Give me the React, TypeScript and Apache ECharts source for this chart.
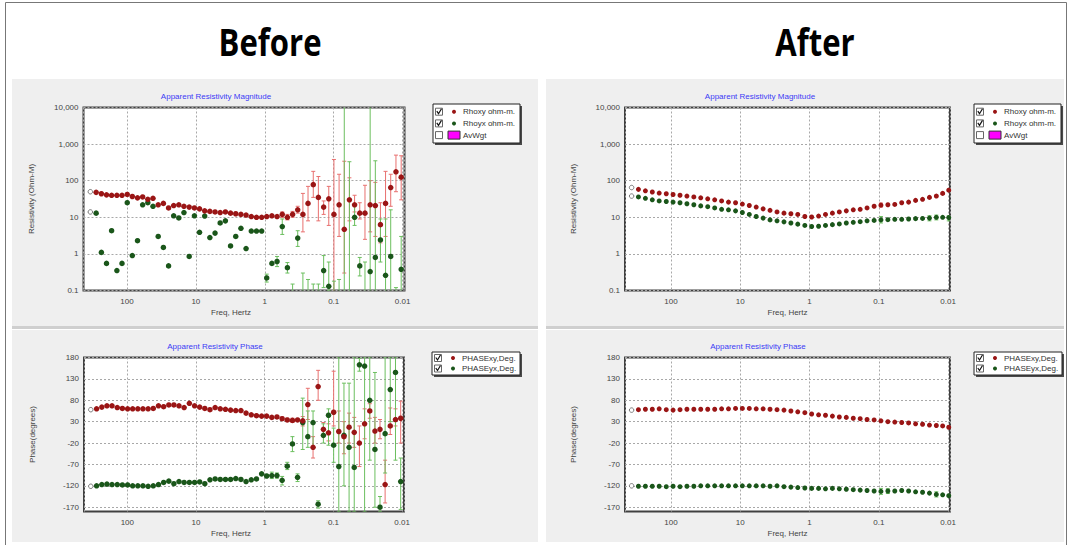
import React, { useEffect, useRef } from 'react';
import * as echarts from 'echarts';

// ---------------- DATA ----------------
const beforeFreq = [280, 235, 198, 167, 140, 118, 99, 83.6, 70.3, 59.2, 49.8, 41.9, 35.2, 29.6, 24.9, 21.0, 17.7, 14.9, 12.5, 10.5, 8.85, 7.45, 6.27, 5.27, 4.44, 3.73, 3.14, 2.64, 2.22, 1.87, 1.57, 1.32, 1.11, 0.938, 0.789, 0.664, 0.558, 0.47, 0.395, 0.333, 0.28, 0.236, 0.198, 0.167, 0.14, 0.118, 0.0993, 0.0836, 0.0703, 0.0592, 0.0498, 0.0419, 0.0352, 0.0296, 0.0249, 0.021, 0.0177, 0.0149, 0.0125, 0.0105];

const beforeRhoXY = [48, 44, 41, 40, 40, 40, 42, 37, 34, 36, 31, 33, 22, 24, 18, 21, 22, 20, 19, 18, 17, 15, 14.5, 14, 13.5, 14, 13, 12.5, 12, 11.5, 10.5, 10, 10, 10.5, 11, 10.5, 12, 10, 12, 16, 12, 24, 78, 35, 19, 32, 12, 22, 4.7, 30, 22, 13, 13, 22, 21, 6.3, 24, 65, 175, 125];
const beforeRhoXYErr = [[36, 10, 14], [37, 8.5, 12], [38, 10, 14.5], [39, 13, 20], [40, 4, 45], [41, 8, 70], [42, 35, 180], [43, 8, 130], [44, 12, 28], [45, 6, 70], [46, 0.05, 380], [47, 3, 150], [48, 0.3, 340], [49, 8, 120], [50, 14, 40], [51, 9, 25], [52, 2.5, 75], [53, 4, 100], [54, 3, 90], [55, 2, 25], [56, 3, 180], [57, 20, 150], [58, 50, 500], [59, 30, 480]];

const beforeRhoYX = [13, 1.1, 0.55, 4.3, 0.35, 0.55, 25, 0.9, 2.3, 22, 25, 20, 3.0, 1.5, 0.47, 11, 9.6, 13.5, 0.85, 11, 3.9, 10.8, 2.8, 3.7, 7, 8, 1.65, 3.0, 5, 1.4, 4.2, 4.2, 4.2, 0.22, 0.55, 0.62, 5.6, 0.42, 0.09, 2.7, 0.08, 0.06, 0.05, 0.06, 0.35, 0.13, 0.06, 0.06, 0.05, 0.05, 10, 0.47, 0.04, 0.33, 0.8, 2.4, 0.26, 0.85, 0.05, 0.38];
const beforeRhoYXErr = [[33, 0.17, 0.28], [35, 0.45, 0.85], [36, 3.4, 9], [37, 0.3, 0.58], [38, 0.06, 0.15], [39, 1.6, 4.3], [40, 0.05, 0.3], [41, 0.03, 0.2], [42, 0.02, 0.15], [43, 0.03, 0.15], [44, 0.12, 0.9], [45, 0.1, 0.6], [46, 0.02, 0.18], [47, 0.02, 0.2], [48, 0.01, 12000], [49, 0.02, 330], [50, 6, 22], [51, 0.25, 0.8], [52, 0.01, 0.6], [53, 0.02, 12000], [54, 0.05, 350], [55, 0.6, 9], [56, 0.05, 9], [57, 0.05, 16], [58, 0.01, 0.12], [59, 0.05, 3]];

const beforePhaseXY = [60, 64, 67, 67, 63, 61, 60, 60, 60, 60, 60, 61, 67, 65, 69, 69, 67, 63, 73, 67, 64, 61, 58, 63, 60, 59, 57, 56, 56, 50, 46, 44, 43, 43, 40, 41, 37, 34, 33, 34, 32, 70, -30, 112, 12, 4, 52, 7, -5, 17, 5, -20, 25, 55, 8, 12, -117, 20, 35, 38];
const beforePhaseXYErr = [[36, 33, 41], [37, 30, 38], [38, 28, 38], [40, 20, 42], [41, 35, 108], [42, -55, -5], [43, 80, 150], [44, 0, 28], [45, -15, 25], [46, 20, 148], [47, -20, 55], [48, -45, 30], [49, -20, 50], [50, -30, 40], [51, -75, 20], [52, -10, 60], [53, 38, 72], [54, -20, 40], [55, -10, 35], [56, -160, -60], [57, 0, 62], [58, 20, 60], [59, -20, 78]];

const beforePhaseYX = [-120, -117, -116, -117, -117, -118, -118, -120, -120, -120, -121, -120, -117, -112, -109, -115, -110, -112, -112, -112, -111, -115, -106, -104, -105, -105, -105, -103, -105, -110, -106, -104, -92, -97, -96, -96, -107, -74, -22, -100, 28, -5, 28, -163, -2, 45, -25, -75, -2, -30, -77, 163, 160, 80, -35, -170, 2, 105, 145, -110];
const beforePhaseYXErr = [[34, -103, -88], [35, -102, -90], [36, -118, -98], [37, -82, -65], [38, -40, -5], [39, -110, -92], [40, -35, 85], [41, -30, 55], [42, -30, 55], [43, -172, -155], [44, -20, 25], [45, -25, 60], [46, -65, 15], [47, -180, 180], [48, -120, 120], [49, -180, 120], [50, -180, 180], [51, 148, 178], [52, -180, 180], [53, -60, 180], [54, -170, 145], [55, -180, -145], [56, -90, 180], [57, 30, 180], [58, -60, 180], [59, -175, -55]];

const afterFreq = [295, 234, 186, 148, 117, 93.3, 74.1, 58.9, 46.8, 37.2, 29.5, 23.4, 18.6, 14.8, 11.7, 9.33, 7.41, 5.89, 4.68, 3.72, 2.95, 2.34, 1.86, 1.48, 1.17, 0.933, 0.741, 0.589, 0.468, 0.372, 0.295, 0.234, 0.186, 0.148, 0.117, 0.0933, 0.0741, 0.0589, 0.0468, 0.0372, 0.0295, 0.0234, 0.0186, 0.0148, 0.012, 0.0098];

const afterRhoXY = [58, 53, 49, 46, 44, 42, 40, 38, 36, 34, 32, 30, 28, 26, 25, 23, 21, 19, 17, 15.5, 14, 13, 12.5, 12, 10.5, 10.2, 10.8, 12, 13, 14, 15, 16, 16.5, 18, 20, 21.5, 22, 22.5, 25, 26, 29, 31, 35, 38, 45, 55];
const afterRhoXYErr = [[35, 19, 24.5], [43, 36, 41], [44, 42, 48]];
const afterRhoYX = [36, 33, 30, 28, 27, 26, 25, 23.5, 22, 20.5, 19.5, 18, 16.5, 16, 15, 13.5, 12, 10.5, 9.5, 8.5, 8, 7.5, 7, 6.5, 6, 5.6, 5.7, 6, 6.3, 6.6, 7, 7.3, 7.6, 8, 8.2, 8.5, 8.6, 8.8, 8.8, 9, 9.2, 9.3, 9.5, 10, 10, 9.8];
const afterRhoYXErr = [[35, 7, 10.5], [42, 8, 11], [43, 8.5, 11.5], [45, 8, 11]];

const afterPhaseXY = [58, 59, 59, 60, 58, 57, 58, 59, 59, 59, 59, 59, 60, 60, 61, 61, 61, 60, 60, 59, 58, 57, 55, 53, 51, 48, 46, 45, 43, 41, 40, 38, 37, 35, 34, 32, 30, 29, 28, 27, 25, 24, 22, 21, 20, 17];
const afterPhaseXYErr: number[][] = [];
const afterPhaseYX = [-121, -121, -121, -121, -122, -121, -122, -121, -121, -120, -120, -120, -120, -120, -120, -120, -120, -120, -120, -121, -120, -122, -123, -124, -125, -126, -126, -127, -126, -127, -128, -129, -130, -131, -132, -133, -132, -132, -131, -132, -134, -135, -137, -140, -141, -143];
const afterPhaseYXErr = [[35, -140, -126], [36, -138, -127], [43, -146, -134]];

// first (open) points
const beforeOpen = { freq: 340, rhoXY: 50, rhoYX: 14, phaseXY: 58, phaseYX: -121 };
const afterOpen = { freq: 370, rhoXY: 65, rhoYX: 38, phaseXY: 57, phaseYX: -120 };

const phaseTicks = [-170, -120, -70, -20, 30, 80, 130, 180];
const rhoLegend = ['Rhoxy ohm-m.', 'Rhoyx ohm-m.', 'AvWgt'];
const phaseLegend = ['PHASExy,Deg.', 'PHASEyx,Deg.'];

// ---------------- STYLE ----------------
const RED = '#9a1515';
const GREEN = '#1a561a';
const RED_ERR = '#e8706f';
const GREEN_ERR = '#6cbf5f';
const FONT = 'Liberation Sans, Arial, sans-serif';

const fmtFreq = (v: number) => {
  const e = Math.log10(v);
  const r = Math.round(e);
  if (Math.abs(e - r) > 0.01) return '';
  return r >= 0 ? String(Math.pow(10, r)) : Math.pow(10, r).toFixed(-r);
};
const fmtRho = (v: number) => {
  const e = Math.log10(v);
  const r = Math.round(e);
  if (Math.abs(e - r) > 0.01) return '';
  return r >= 0 ? Math.pow(10, r).toLocaleString('en-US') : Math.pow(10, r).toFixed(-r);
};

function errRender(color: string) {
  return (params: any, api: any) => {
    const x = api.value(0);
    const lo = api.value(1);
    const hi = api.value(2);
    const a = api.coord([x, lo]);
    const b = api.coord([x, hi]);
    const w = 2;
    const st = { stroke: color, lineWidth: 1 };
    return {
      type: 'group',
      children: [
        { type: 'line', shape: { x1: a[0], y1: a[1], x2: b[0], y2: b[1] }, style: st },
        { type: 'line', shape: { x1: a[0] - w, y1: a[1], x2: a[0] + w, y2: a[1] }, style: st },
        { type: 'line', shape: { x1: b[0] - w, y1: b[1], x2: b[0] + w, y2: b[1] }, style: st },
      ],
    };
  };
}

const pairs = (freq: number[], vals: number[]) => vals.map((v, i) => [freq[i], v]);
const errPairs = (freq: number[], errs: number[][]) => errs.map((e) => [freq[e[0]], e[1], e[2]]);

function legendGroup(x: number, y: number, w: number, h: number, items: string[], rowTop: number, rowGap: number) {
  const children: any[] = [
    { type: 'rect', shape: { x: x + 2, y: y + 2, width: w, height: h }, style: { fill: '#4a4a4a' } },
    { type: 'rect', shape: { x, y, width: w, height: h }, style: { fill: '#ffffff', stroke: '#222', lineWidth: 1 } },
  ];
  items.forEach((label, i) => {
    const cy = y + rowTop + i * rowGap;
    const isAv = label === 'AvWgt';
    children.push({ type: 'rect', shape: { x: x + 2.5, y: cy - 3.5, width: 7, height: 7 }, style: { fill: '#fff', stroke: '#666', lineWidth: 1 } });
    if (!isAv) {
      children.push({ type: 'polyline', shape: { points: [[x + 3.8, cy - 0.5], [x + 5.5, cy + 2], [x + 8.5, cy - 3]] }, style: { stroke: '#111', lineWidth: 1.2, fill: null } });
      children.push({ type: 'circle', shape: { cx: x + 21, cy, r: 2 }, style: { fill: i === 0 ? RED : GREEN } });
    } else {
      children.push({ type: 'rect', shape: { x: x + 15, y: cy - 4, width: 12, height: 8 }, style: { fill: '#ff00ff', stroke: '#333', lineWidth: 1 } });
    }
    children.push({ type: 'text', x: x + 30, y: cy, style: { text: label, fill: '#333', font: `8px ${FONT}`, verticalAlign: 'middle', align: 'left' } });
  });
  return { type: 'group', z: 100, children };
}

export default function App() {
  const ref = useRef<HTMLDivElement>(null);
  useEffect(() => {
    if (!ref.current) return;
    const chart = echarts.init(ref.current, null, { renderer: 'svg' });

    const grids = [
      { left: 83.5, top: 107.5, width: 321, height: 183 },
      { left: 84, top: 357.5, width: 320, height: 154 },
      { left: 625, top: 107.5, width: 325, height: 183 },
      { left: 625, top: 357.5, width: 325, height: 154 },
    ].map((g) => ({ ...g, show: true, backgroundColor: '#ffffff', borderColor: '#404040', borderWidth: 2, containLabel: false, outerBoundsMode: 'none' }));

    const xMax = [427, 427, 461, 461];

    const splitLine = { show: true, lineStyle: { color: '#a8a8a8', type: [2, 2], width: 1 } };
    const axisLabel = { color: '#444', fontSize: 8, fontFamily: FONT };

    const xAxes = [0, 1, 2, 3].map((i) => ({
      type: 'log', logBase: 10, gridIndex: i, inverse: true, min: 0.0094, max: xMax[i],
      name: 'Freq, Hertz', nameLocation: 'middle', nameGap: 18,
      nameTextStyle: { color: '#444', fontSize: 8, fontFamily: FONT, padding: i < 2 ? [0, 26, 0, 0] : [0, 0, 0, 0] },
      axisLine: { show: false }, axisTick: { show: false }, splitLine,
      axisLabel: { ...axisLabel, margin: 7, formatter: fmtFreq, showMinLabel: true, showMaxLabel: true },
    }));
    const yAxes = [0, 1, 2, 3].map((i) => {
      const isRho = i % 2 === 0;
      const common = {
        gridIndex: i, nameLocation: 'middle', nameGap: 48,
        nameTextStyle: { color: '#444', fontSize: 8, fontFamily: FONT },
        axisLine: { show: false }, splitLine,
      };
      if (isRho) {
        return { ...common, type: 'log', logBase: 10, min: 0.1, max: 10000, name: 'Resistivity (Ohm-M)', axisTick: { show: false }, axisLabel: { ...axisLabel, margin: 5, formatter: fmtRho } };
      }
      return {
        ...common, type: 'value', min: -180, max: 180, name: 'Phase(degrees)',
        axisTick: { show: false, customValues: phaseTicks },
        axisLabel: { ...axisLabel, margin: 5, customValues: phaseTicks },
      };
    });

    const panels = [
      { f: beforeFreq, open: beforeOpen, xy: beforeRhoXY, xyE: beforeRhoXYErr, yx: beforeRhoYX, yxE: beforeRhoYXErr, ok: 'rho', names: rhoLegend, size: 5.5 },
      { f: beforeFreq, open: beforeOpen, xy: beforePhaseXY, xyE: beforePhaseXYErr, yx: beforePhaseYX, yxE: beforePhaseYXErr, ok: 'phase', names: phaseLegend, size: 5.5 },
      { f: afterFreq, open: afterOpen, xy: afterRhoXY, xyE: afterRhoXYErr, yx: afterRhoYX, yxE: afterRhoYXErr, ok: 'rho', names: rhoLegend, size: 5 },
      { f: afterFreq, open: afterOpen, xy: afterPhaseXY, xyE: afterPhaseXYErr, yx: afterPhaseYX, yxE: afterPhaseYXErr, ok: 'phase', names: phaseLegend, size: 5 },
    ];

    const series: any[] = [];
    panels.forEach((p, i) => {
      const o: any = p.open;
      const ov = p.ok === 'rho' ? [o.rhoXY, o.rhoYX] : [o.phaseXY, o.phaseYX];
      series.push({ type: 'custom', name: p.names[0] + ' err', xAxisIndex: i, yAxisIndex: i, clip: true, renderItem: errRender(RED_ERR), data: errPairs(p.f, p.xyE), z: 2, encode: { x: 0, y: [1, 2] } });
      series.push({ type: 'custom', name: p.names[1] + ' err', xAxisIndex: i, yAxisIndex: i, clip: true, renderItem: errRender(GREEN_ERR), data: errPairs(p.f, p.yxE), z: 2, encode: { x: 0, y: [1, 2] } });
      series.push({ type: 'scatter', name: p.names[1], xAxisIndex: i, yAxisIndex: i, data: pairs(p.f, p.yx), symbolSize: p.size, itemStyle: { color: GREEN, opacity: 1 }, z: 3, clip: true });
      series.push({ type: 'scatter', name: p.names[0], xAxisIndex: i, yAxisIndex: i, data: pairs(p.f, p.xy), symbolSize: p.size, itemStyle: { color: RED, opacity: 1 }, z: 4, clip: true });
      series.push({ type: 'scatter', name: 'open ' + i, xAxisIndex: i, yAxisIndex: i, data: [[o.freq, ov[0]], [o.freq, ov[1]]], symbol: 'circle', symbolSize: 4.5, itemStyle: { color: '#ffffff', borderColor: '#777', borderWidth: 1, opacity: 1 }, z: 5 });
    });

    const titleText = (x: number, y: number, text: string) => ({
      type: 'text', x, y, z: 50, style: { text, fill: '#3b3bf5', font: `8px ${FONT}`, align: 'center', verticalAlign: 'middle' },
    });

    const graphic: any[] = [
      { type: 'line', z: -20, shape: { x1: 5.5, y1: 2.5, x2: 1066.5, y2: 2.5 }, style: { stroke: '#777', lineWidth: 1 } },
      { type: 'line', z: -20, shape: { x1: 5.5, y1: 2.5, x2: 5.5, y2: 545 }, style: { stroke: '#777', lineWidth: 1 } },
      { type: 'line', z: -20, shape: { x1: 1066.5, y1: 2.5, x2: 1066.5, y2: 545 }, style: { stroke: '#777', lineWidth: 1 } },
      { type: 'rect', z: -20, shape: { x: 12, y: 79, width: 526, height: 247 }, style: { fill: '#efefef' } },
      { type: 'rect', z: -20, shape: { x: 12, y: 330, width: 526, height: 212 }, style: { fill: '#efefef' } },
      { type: 'rect', z: -20, shape: { x: 546, y: 79, width: 518, height: 247 }, style: { fill: '#efefef' } },
      { type: 'rect', z: -20, shape: { x: 546, y: 330, width: 518, height: 212 }, style: { fill: '#efefef' } },
      { type: 'rect', z: -19, shape: { x: 12, y: 326, width: 526, height: 3 }, style: { fill: '#cfcfcf' } },
      { type: 'rect', z: -19, shape: { x: 546, y: 326, width: 518, height: 3 }, style: { fill: '#cfcfcf' } },
      { type: 'text', x: 270, y: 41, scaleX: 0.84, z: 50, style: { text: 'Before', fill: '#000', font: `bold 37px "Open Sans", sans-serif`, align: 'center', verticalAlign: 'middle' } },
      { type: 'text', x: 815, y: 41, scaleX: 0.84, z: 50, style: { text: 'After', fill: '#000', font: `bold 37px "Open Sans", sans-serif`, align: 'center', verticalAlign: 'middle' } },
      titleText(216, 96, 'Apparent Resistivity Magnitude'),
      titleText(215, 346, 'Apparent Resistivity Phase'),
      titleText(760, 96, 'Apparent Resistivity Magnitude'),
      titleText(758, 346, 'Apparent Resistivity Phase'),
      legendGroup(433, 104, 87, 39, rhoLegend, 7.7, 11.7),
      legendGroup(432, 352, 88, 23, phaseLegend, 6, 10.5),
      legendGroup(974, 104, 87, 39, rhoLegend, 7.7, 11.7),
      legendGroup(974, 352, 88, 23, phaseLegend, 6, 10.5),
    ];

    chart.setOption({
      animation: false,
      backgroundColor: '#ffffff',
      grid: grids,
      xAxis: xAxes,
      yAxis: yAxes,
      series,
      graphic,
    });
    return () => chart.dispose();
  }, []);
  return <div ref={ref} style={{ position: 'fixed', left: 0, top: 0, width: 1069, height: 545 }} />;
}
